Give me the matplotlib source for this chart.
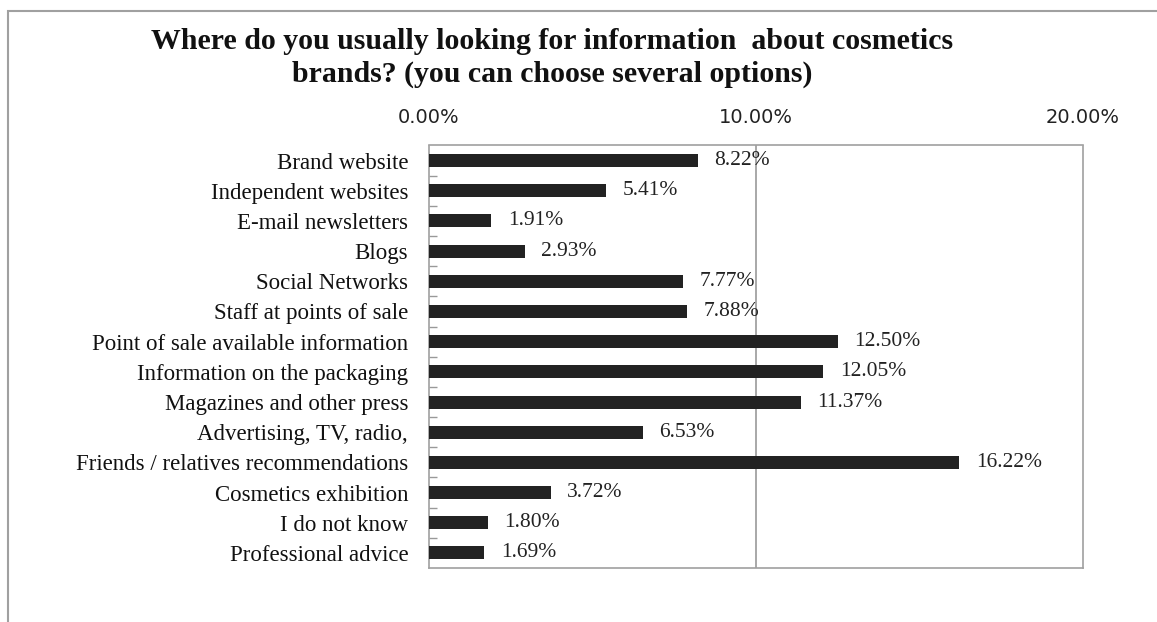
import matplotlib
matplotlib.use("Agg")
import matplotlib.pyplot as plt
from matplotlib.patches import Rectangle
import numpy as np

categories = ["Brand website", "Independent websites", "E-mail newsletters", "Blogs",
              "Social Networks", "Staff at points of sale",
              "Point of sale available information", "Information on the packaging",
              "Magazines and other press", "Advertising, TV, radio,",
              "Friends / relatives recommendations", "Cosmetics exhibition",
              "I do not know", "Professional advice"]
values = [8.22, 5.41, 1.91, 2.93, 7.77, 7.88, 12.50, 12.05, 11.37, 6.53, 16.22, 3.72, 1.80, 1.69]
xticks = [0, 10, 20]
xtick_labels = ["0.00%", "10.00%", "20.00%"]
title = "Where do you usually looking for information  about cosmetics\nbrands? (you can choose several options)"

plt.rcParams['font.family'] = ['Liberation Serif', 'DejaVu Serif']

W, H = 1157, 622
fig = plt.figure(figsize=(W / 100, H / 100), dpi=100)
fig.patches.append(Rectangle((8 / W, -0.1), 1.2, 1 - 11 / H + 0.1, transform=fig.transFigure,
                             fill=False, edgecolor="#a0a0a0", linewidth=1.5))

ax = fig.add_axes([429 / W, 1 - 568 / H, (1083 - 429) / W, (568 - 145.5) / H])
y = np.arange(len(categories))
ax.barh(y, values, height=0.43, color="#222222", zorder=3)
ax.set_ylim(len(categories) - 0.5, -0.5)
ax.set_xlim(0, 20)

ax.set_yticks(y)
ax.set_yticklabels(categories, fontsize=16.5, color="#111111")
ax.set_yticks(np.arange(0.5, len(categories) - 1, 1), minor=True)
ax.tick_params(axis="y", which="major", length=0, pad=15)
ax.tick_params(axis="y", which="minor", direction="in", length=6, color="#999999", width=1)

ax.xaxis.tick_top()
ax.set_xticks(xticks)
ax.set_xticklabels(xtick_labels, fontsize=14, color="#222222", family="DejaVu Sans")
ax.tick_params(axis="x", length=0, pad=13)
ax.axvline(10, color="#999999", linewidth=1.2, zorder=2)

for s in ax.spines.values():
    s.set_color("#a0a0a0")
    s.set_linewidth(1.2)

for yi, v in zip(y, values):
    ax.annotate(f"{v:.2f}%", (v, yi), xytext=(12, 0), textcoords="offset points",
                va="center", ha="left", fontsize=15.5, color="#222222", zorder=4)

fig.text(552 / W, 1 - 58 / H, title, ha="center", va="center", fontsize=21.5,
         fontweight="bold", color="#111111", linespacing=1.25)

fig.savefig("out.png", dpi=100)
